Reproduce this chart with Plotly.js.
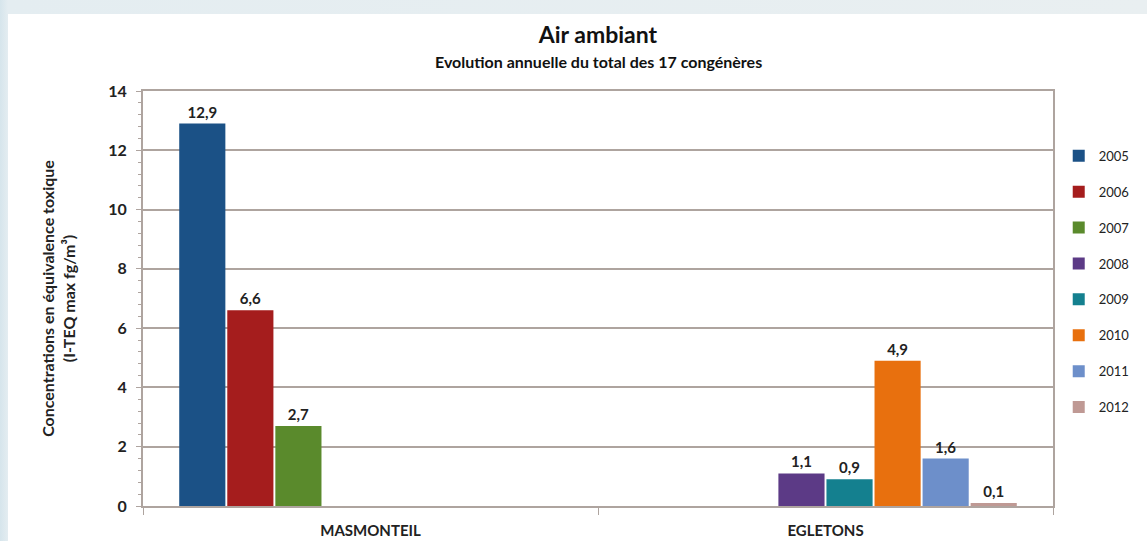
<!DOCTYPE html>
<html>
<head>
<meta charset="utf-8">
<script src="https://cdn.plot.ly/plotly-3.0.1.min.js"></script>
<style>
  html, body { margin: 0; padding: 0; width: 1147px; height: 541px; overflow: hidden; }
  body { background: linear-gradient(to right, #d6e5ec 0px, #e4edf1 8px, #e9eff1 100%); }
  #chart { position: absolute; left: 8px; top: 14px; width: 1139px; height: 527px; background: #fff; }
</style>
</head>
<body>
<div id="chart"></div>
<script>
const sites = ["MASMONTEIL", "EGLETONS"];
const years = ["2005", "2006", "2007", "2008", "2009", "2010", "2011", "2012"];
// one value per site for each year (null = no measurement)
const values = [
  [12.9, null],
  [6.6, null],
  [2.7, null],
  [null, 1.1],
  [null, 0.9],
  [null, 4.9],
  [null, 1.6],
  [null, 0.1],
];
const colors = ["#1b5186", "#a51d1d", "#5a8a2c", "#5c3a86", "#14808f", "#e8700e", "#6d8fca", "#bf9994"];

const FONT = "Lato, 'Open Sans', sans-serif";
const GRID = "#aea49f";

const traces = years.map((yr, i) => ({
  type: "bar",
  name: yr,
  x: sites,
  y: values[i],
  marker: { color: colors[i] },
  text: values[i].map((v) => (v == null ? "" : v.toFixed(1).replace(".", ","))),
  textposition: "outside",
  cliponaxis: false,
  textfont: { family: FONT, size: 15, color: "#222", weight: "bold" },
  legendgroup: yr,
  hoverinfo: "skip",
}));

const layout = {
  width: 1139,
  height: 527,
  paper_bgcolor: "rgba(0,0,0,0)",
  plot_bgcolor: "#ffffff",
  font: { family: FONT, size: 12, color: "#222" },
  margin: { l: 135, r: 94, t: 77, b: 35 },
  barmode: "group",
  bargap: 0.155,
  bargroupgap: 0.04,
  separators: ", ",
  title: {
    text: "<b>Air ambiant</b>",
    x: 0.5, xref: "paper", xanchor: "center",
    yref: "container", y: 0.96, yanchor: "middle",
    font: { family: FONT, size: 23, color: "#111" },
  },
  annotations: [
    {
      text: "<b>Evolution annuelle du total des 17 congénères</b>",
      xref: "paper", yref: "paper",
      x: 0.5, xanchor: "center",
      y: 1.07, yanchor: "middle",
      showarrow: false,
      font: { family: FONT, size: 16, color: "#111" },
    },
  ],
  xaxis: {
    type: "category",
    showline: true,
    linecolor: GRID,
    linewidth: 2,
    mirror: true,
    ticks: "outside",
    tickson: "boundaries",
    ticklen: 7,
    tickcolor: GRID,
    ticklabelstandoff: 10,
    tickfont: { family: FONT, size: 15, color: "#222", weight: "bold" },
    showgrid: false,
  },
  yaxis: {
    range: [0, 14],
    dtick: 2,
    showline: true,
    linecolor: GRID,
    linewidth: 2,
    mirror: true,
    ticks: "outside",
    ticklen: 5,
    tickcolor: GRID,
    ticklabelstandoff: 6,
    gridcolor: GRID,
    gridwidth: 2,
    zeroline: false,
    minor: { dtick: 0.4, ticks: "outside", ticklen: 3, tickcolor: GRID, showgrid: false },
    tickfont: { family: FONT, size: 16, color: "#222", weight: "bold" },
    title: {
      text: "<b>Concentrations en équivalence toxique<br>(I-TEQ max fg/m³)</b>",
      font: { family: FONT, size: 16, color: "#222" },
      standoff: 29,
    },
  },
  legend: {
    xref: "container", x: 0.9225, xanchor: "left",
    yref: "paper", y: 0.88, yanchor: "top",
    font: { family: FONT, size: 13, color: "#222" },
    tracegroupgap: 16,
    itemwidth: 30,
    bgcolor: "rgba(0,0,0,0)",
  },
  showlegend: true,
};

Plotly.newPlot("chart", traces, layout, { displayModeBar: false, staticPlot: true });
</script>
</body>
</html>
